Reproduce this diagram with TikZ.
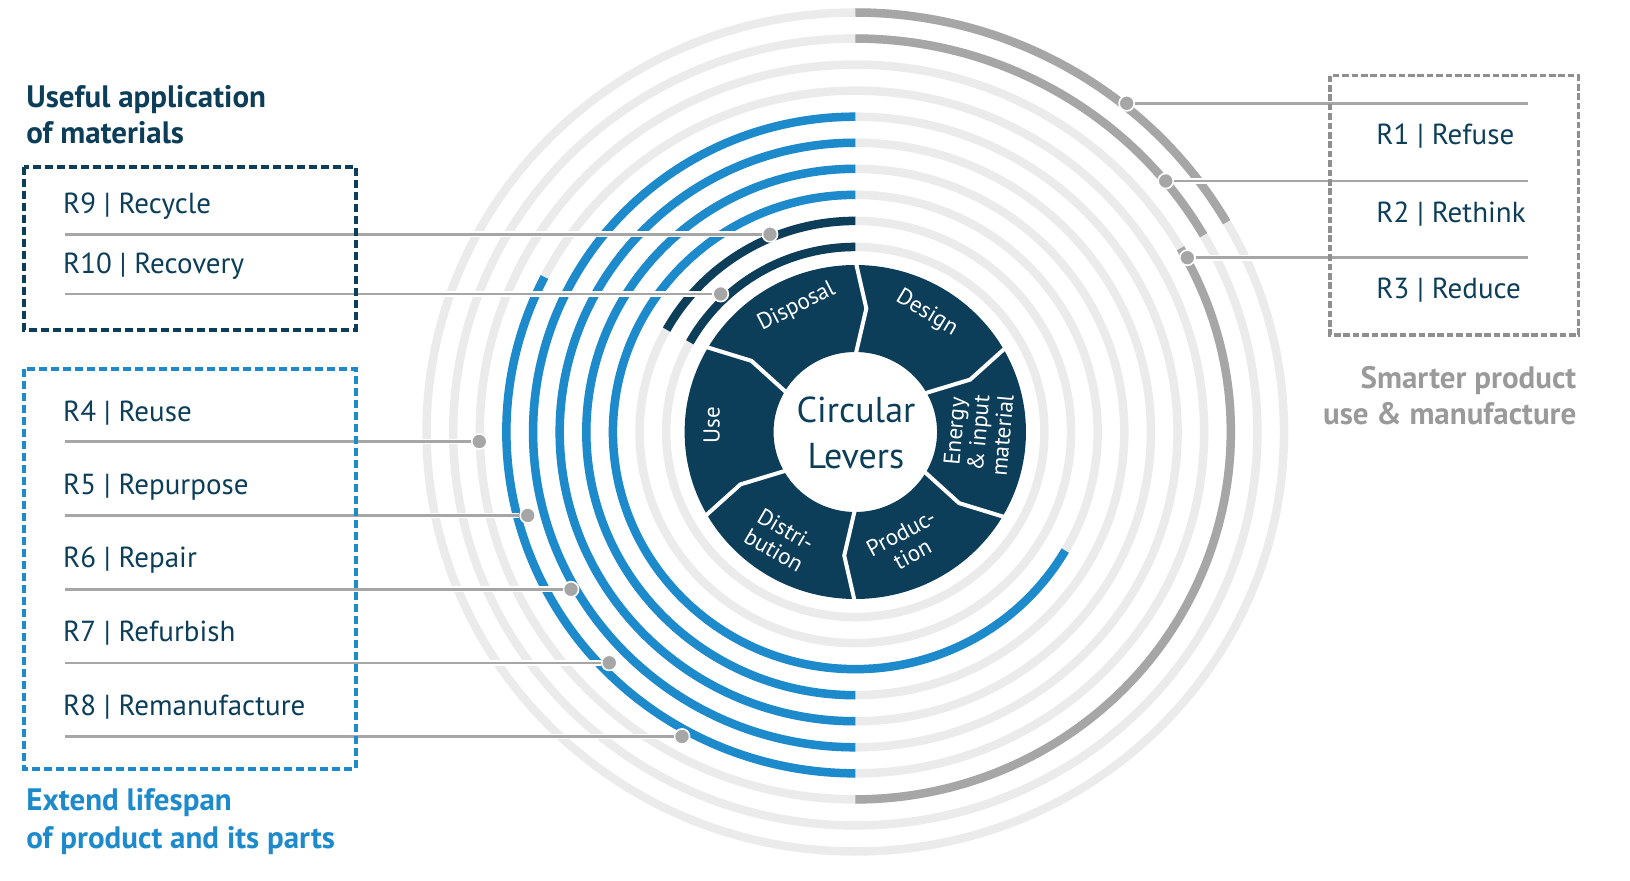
\documentclass[tikz,border=0pt]{standalone}
\usepackage{fontspec}
\setmainfont{PT Sans}
\usetikzlibrary{positioning}
\definecolor{navy}{HTML}{0C3E5A}
\definecolor{lblue}{HTML}{1D8ACB}
\definecolor{ringgrey}{HTML}{EBEBEB}
\definecolor{darkgrey}{HTML}{A6A6A6}
\definecolor{boxgrey}{HTML}{8F8F8F}
\definecolor{textgrey}{HTML}{9A9A9A}
\begin{document}
\begin{tikzpicture}[x=0.5pt,y=0.5pt,line join=miter,
  ring/.style={line width=4.25pt,draw=ringgrey},
  rarc/.style={line width=4.25pt,draw=#1},
  link/.style={draw=darkgrey,line width=1.25pt,preaction={draw=white,line width=2.9pt}},
  dot/.style={circle,fill=darkgrey,draw=white,line width=0.8pt,inner sep=0pt,minimum size=7.6pt},
  item/.style={anchor=base west,text=navy,inner sep=0pt,font=\fontsize{14.5}{17}\selectfont},
  head/.style={anchor=base west,align=left,inner sep=0pt,font=\bfseries\fontsize{15.5}{18}\selectfont},
  lever/.style={text=white,align=center,inner sep=0pt,font=\fontsize{11.5}{12}\selectfont},
  dashbox/.style={line width=1.85pt,dash pattern=on 4pt off 2pt}]
\useasboundingbox (0,0) rectangle (1630,880);
\begin{scope}[shift={(855.3,448)},xscale=1.022]
\foreach \i in {1,...,10}
\draw[ring] (0,0) circle[radius={419.5-26.05*(\i-1)}];
\foreach \i/\a/\b/\c in {1/90/30/darkgrey,2/90/30/darkgrey,3/30/-90/darkgrey,
  4/153/270/lblue,5/90/270/lblue,6/90/270/lblue,7/90/270/lblue,8/90/330/lblue,
  9/90/151/navy,10/90/151/navy}
\draw[rarc=\c] ({\a}:{419.5-26.05*(\i-1)}) arc[start angle=\a,end angle=\b,radius={419.5-26.05*(\i-1)}];
\fill[navy,even odd rule] (0,0) circle[radius=167] (0,0) circle[radius=80];
\foreach \t in {90,30,-30,-90,-150,150}
\draw[white,line width=2pt] (\t:172) -- ({\t-5}:124) -- (\t:76);
\end{scope}
\node[text=navy,align=center,inner sep=0pt,font=\fontsize{18}{22.8}\selectfont] (levers) at (856,447) {Circular\\Levers};
\node[lever,rotate=27] (disposal) at (796.7,573.3) {Disposal};
\node[lever,rotate=-31] (design) at (926.7,566.7) {Design};
\node[lever,rotate=85] (energy) at (978.3,446.7) {Energy\\\& input\\material};
\node[lever,rotate=28] (production) at (906.7,336.7) {Produc-\\tion};
\node[lever,rotate=-30] (distribution) at (780,340) {Distri-\\bution};
\node[lever,rotate=90] (use) at (711.7,455) {Use};
\foreach \n/\x/\y in {1/1126.7/776.7,2/1165.7/699,3/1187.3/622.3}
{\node[dot] (d\n) at (\x,\y) {};
\coordinate (e\n) at (1527.7,\y);
\draw[link] (d\n) -- (e\n);}
\foreach \n/\x/\y in {9/770/645.7,10/720.7/586,4/479.3/438.5,5/527.7/364.5,6/571/290.7,7/609.3/217.2,8/682/143.5}
{\node[dot] (d\n) at (\x,\y) {};
\coordinate (e\n) at (65,\y);
\draw[link] (e\n) -- (d\n);}
\foreach \n/\y/\s in {1/735/Refuse,2/657.7/Rethink,3/581/Reduce}
\node[item] (t\n) at (1376,\y) {R\n\ \textbar\ \s};
\foreach \n/\y/\s in {9/666/Recycle,10/606/Recovery,4/458.3/Reuse,5/386/Repurpose,6/312.7/Repair,7/238.3/Refurbish,8/165/Remanufacture}
\node[item] (t\n) at (62.7,\y) {R\n\ \textbar\ \s};
\draw[dashbox,navy] (24,712.7) rectangle (355.7,550);
\draw[dashbox,lblue] (24,510.7) rectangle (355.7,111);
\draw[dashbox,boxgrey,line width=1.65pt,dash pattern=on 3.3pt off 1.4pt] (1330,804.3) rectangle (1578.3,545);
\node[head,text=navy] (useful) at (26,736) {Useful application\\of materials};
\node[head,text=lblue,font=\bfseries\fontsize{15.5}{18.8}\selectfont] (extend) at (26,31.7) {Extend lifespan\\of product and its parts};
\node[head,text=textgrey,anchor=base east,align=right,font=\bfseries\fontsize{15.5}{18.35}\selectfont] (smarter) at (1576.7,455) {Smarter product\\use \& manufacture};
\end{tikzpicture}
\end{document}
